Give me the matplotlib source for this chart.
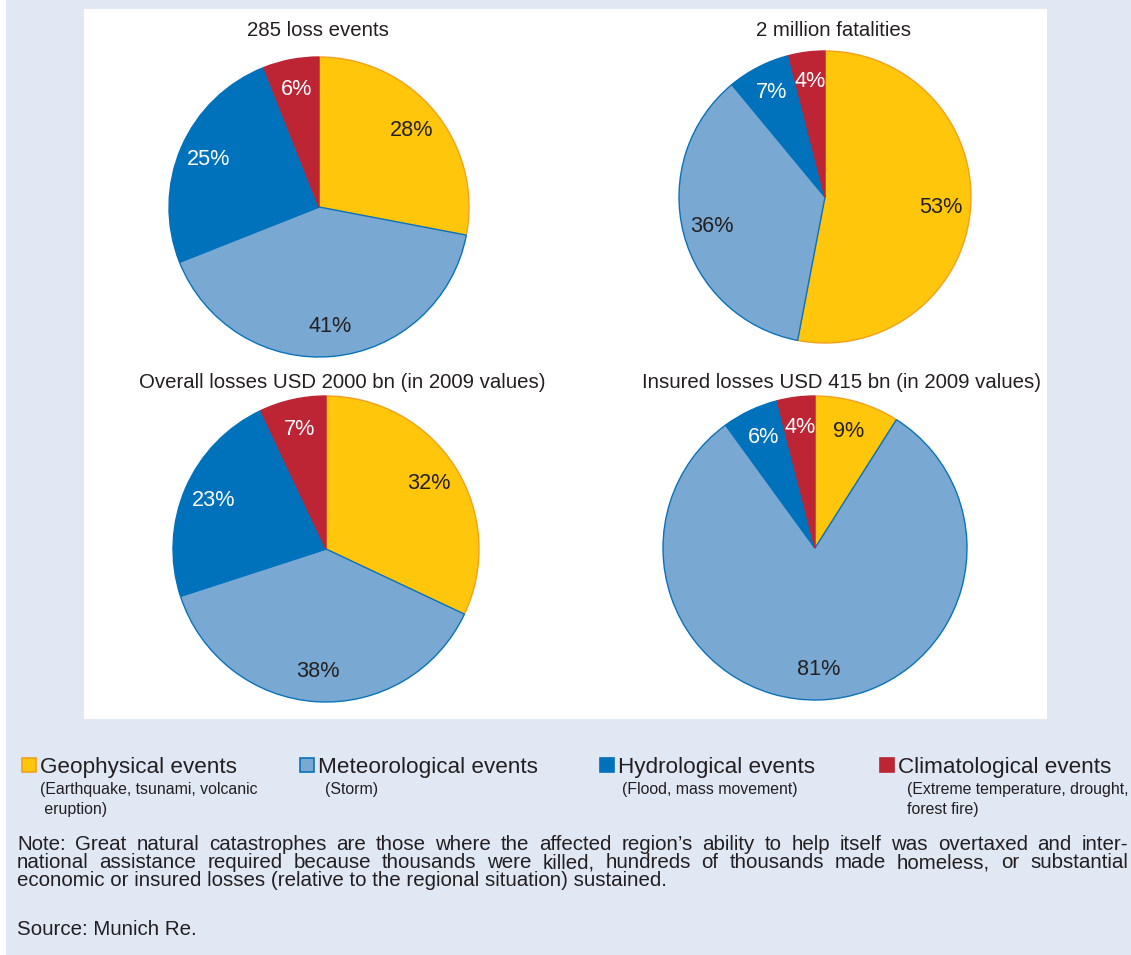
import matplotlib
matplotlib.use('Agg')
import matplotlib.pyplot as plt
from matplotlib.patches import Rectangle

plt.rcParams['font.family'] = ['Liberation Sans', 'DejaVu Sans']

W, H = 1131, 955
BG = '#e0e8f4'
INK = '#231f20'

titles = ['285 loss events', '2 million fatalities',
          'Overall losses USD 2000 bn (in 2009 values)',
          'Insured losses USD 415 bn (in 2009 values)']
events = [28, 41, 25, 6]
fatalities = [53, 36, 7, 4]
overall = [32, 38, 23, 7]
insured = [9, 81, 6, 4]

categories = ['Geophysical events', 'Meteorological events',
              'Hydrological events', 'Climatological events']
details = [['(Earthquake, tsunami, volcanic', ' eruption)'],
           ['(Storm)'],
           ['(Flood, mass movement)'],
           ['(Extreme temperature, drought,', 'forest fire)']]
note = ("Note: Great natural catastrophes are those where the affected region\u2019s "
        "ability to help itself was overtaxed and inter-|national assistance required "
        "because thousands were killed, hundreds of thousands made homeless, or "
        "substantial|economic or insured losses (relative to the regional situation) "
        "sustained.")
source = 'Source: Munich Re.'

fills = ['#ffc60b', '#79a9d3', '#0071bb', '#bd2534']
edges = ['#f5a01a', '#0a72b9', '#0071bb', '#bd2534']
label_colors = [INK, INK, 'white', 'white']


def fx(x):
    return x / W


def fy(y):
    return 1 - y / H


fig = plt.figure(figsize=(W / 100, H / 100), dpi=100)
fig.patch.set_facecolor(BG)
fig.patches.append(Rectangle((0, 0), fx(6), 1, transform=fig.transFigure,
                             facecolor='white', edgecolor='none', zorder=-5))
fig.patches.append(Rectangle((fx(84), fy(719)), fx(1047 - 84), (719 - 9) / H,
                             transform=fig.transFigure, facecolor='white',
                             edgecolor='none', zorder=-5))

# pie layout: centre x, centre y, radius (pixels)
layout = [(319, 207, 150), (825, 197, 146), (326, 549, 153), (815, 548, 152)]
title_pos = [(318, 30), (833, 30), (342, 382), (842, 382)]
S = 175
for data, title, (cx, cy, r), (tx, ty) in zip([events, fatalities, overall, insured],
                                              titles, layout, title_pos):
    ax = fig.add_axes([fx(cx - S), fy(cy + S), 2 * S / W, 2 * S / H])
    ax.patch.set_visible(False)
    wedges, texts, autotexts = ax.pie(
        data, colors=fills, startangle=90, counterclock=False,
        autopct=lambda p: f'{p:.0f}%', pctdistance=0.8,
        wedgeprops=dict(linewidth=1.0),
        textprops=dict(fontsize=15.6))
    for w, ec in zip(wedges, edges):
        w.set_edgecolor(ec)
    for t, c in zip(autotexts, label_colors):
        t.set_color(c)
    ax.set_xlim(-S / r, S / r)
    ax.set_ylim(-S / r, S / r)
    ax.set_axis_off()
    fig.text(fx(tx), fy(ty), title, ha='center', va='center', fontsize=14.7,
             color=INK)

# legend
leg_x = [22, 300, 600, 880]
sub_x = [40, 325, 622, 907]
for cat, det, fc, ec, lx, sx in zip(categories, details, fills, edges, leg_x, sub_x):
    fig.patches.append(Rectangle((fx(lx), fy(772)), 14 / W, 14 / H,
                                 transform=fig.transFigure, facecolor=fc,
                                 edgecolor=ec, linewidth=1.2))
    fig.text(fx(lx + 18), fy(773), cat, ha='left', va='baseline', fontsize=16.2,
             color=INK)
    for i, line in enumerate(det):
        fig.text(fx(sx), fy(789 + 20 * i), line, ha='left', va='center',
                 fontsize=11.4, color=INK)

# note, justified like the source
renderer = fig.canvas.get_renderer()
lines = note.split('|')
left, right = fx(17), fx(1128)
NOTE_FS = 14.8
for i, line in enumerate(lines):
    y = fy(850 + 18 * i)
    if i == len(lines) - 1:
        fig.text(left, y, line, ha='left', va='baseline', fontsize=NOTE_FS, color=INK)
        continue
    words = line.split(' ')
    objs = [fig.text(0, y, w_, ha='left', va='baseline', fontsize=NOTE_FS, color=INK)
            for w_ in words]
    widths = [o.get_window_extent(renderer).width / W for o in objs]
    gap = (right - left - sum(widths)) / (len(words) - 1)
    x = left
    for o, wd in zip(objs, widths):
        o.set_x(x)
        x += wd + gap

fig.text(fx(17), fy(935), source, ha='left', va='baseline', fontsize=NOTE_FS, color=INK)

fig.savefig('out.png', dpi=100, facecolor=BG)
